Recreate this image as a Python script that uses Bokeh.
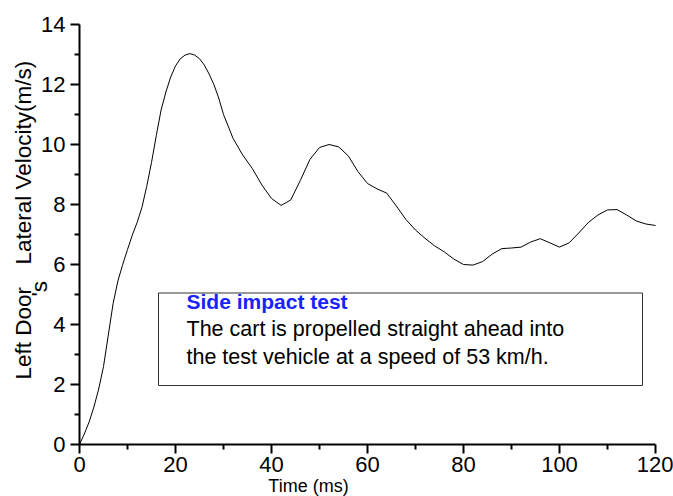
import math
from bokeh.plotting import figure
from bokeh.models import Range1d, FixedTicker, Label, BoxAnnotation, ColumnDataSource
from bokeh.embed import file_html
from bokeh.resources import INLINE

# ---- data ----
time_ms = [0, 1, 2, 3, 4, 5, 6, 7, 8, 9, 10, 11, 12, 13, 14, 15, 16, 17, 18, 19,
           20, 21, 22, 23, 24, 25, 26, 27, 28, 29, 30, 32, 34, 36, 38, 40, 42, 44,
           46, 48, 50, 52, 54, 56, 58, 60, 62, 64, 66, 68, 70, 72, 74, 76, 78, 80,
           82, 84, 86, 88, 90, 92, 94, 96, 98, 100, 102, 104, 106, 108, 110, 112,
           114, 116, 118, 120]
velocity = [0.0, 0.35, 0.75, 1.25, 1.85, 2.6, 3.65, 4.7, 5.45, 6.0, 6.5, 6.98, 7.4,
            7.9, 8.6, 9.4, 10.3, 11.15, 11.75, 12.25, 12.62, 12.86, 12.98, 13.03, 12.98,
            12.86, 12.65, 12.35, 12.0, 11.55, 11.0, 10.2, 9.65, 9.2, 8.65, 8.2, 7.97,
            8.15, 8.8, 9.5, 9.9, 10.0, 9.92, 9.62, 9.1, 8.7, 8.52, 8.38, 7.95, 7.5,
            7.15, 6.87, 6.62, 6.42, 6.18, 6.0, 5.98, 6.1, 6.35, 6.53, 6.55, 6.58,
            6.75, 6.86, 6.72, 6.58, 6.72, 7.05, 7.4, 7.65, 7.82, 7.83, 7.65, 7.45,
            7.35, 7.3]

x_major = [0, 20, 40, 60, 80, 100, 120]
x_minor = [10, 30, 50, 70, 90, 110]
y_major = [0, 2, 4, 6, 8, 10, 12, 14]
y_minor = [1, 3, 5, 7, 9, 11, 13]

x_title = "Time (ms)"
y_title_a = "Left Door"
y_title_b = "'s"
y_title_c = "Lateral Velocity(m/s)"
note_title = "Side impact test"
note_lines = ["The cart is propelled straight ahead into",
              "the test vehicle at a speed of 53 km/h."]

FONT = "Liberation Sans"

# pixel helpers (axes: x 0..120 -> px 79..655, y 0..14 -> px 444..24)
def tx(px):
    return (px - 79) / 4.8

def vy(py):
    return (444 - py) / 30.0

W, H = 673, 496
p = figure(width=W, height=H, output_backend="svg", toolbar_location=None,
           x_range=Range1d(tx(0), tx(W)), y_range=Range1d(vy(H), vy(0)),
           min_border_left=0, min_border_right=0, min_border_top=0,
           min_border_bottom=0)
p.outline_line_color = None
p.xgrid.visible = False
p.ygrid.visible = False
p.background_fill_color = "white"
p.border_fill_color = "white"

src = ColumnDataSource(dict(t=time_ms, v=velocity))
p.line("t", "v", source=src, line_color="black", line_width=1)

for ax, maj, mnr in ((p.xaxis[0], x_major, x_minor), (p.yaxis[0], y_major, y_minor)):
    ax.fixed_location = 0
    ax.bounds = (maj[0], maj[-1])
    ax.ticker = FixedTicker(ticks=maj, minor_ticks=mnr)
    ax.axis_line_color = "black"
    ax.axis_line_width = 2
    ax.major_tick_line_color = "black"
    ax.major_tick_line_width = 2
    ax.minor_tick_line_color = "black"
    ax.minor_tick_line_width = 2
    ax.major_tick_out = 9
    ax.major_tick_in = 0
    ax.minor_tick_out = 5
    ax.minor_tick_in = 0
    ax.major_label_text_font = FONT
    ax.major_label_text_font_size = "22px"
    ax.major_label_text_color = "black"

p.xaxis.major_label_standoff = 3
p.yaxis.major_label_standoff = 5

# x axis title
p.add_layout(Label(x=tx(308), y=vy(485), text=x_title, text_align="center",
                   text_baseline="middle", text_font=FONT,
                   text_font_size="18px", text_color="black"))

# y axis title pieces (rotated)
p.add_layout(Label(x=tx(23), y=vy(379), text=y_title_a, angle=math.pi / 2,
                   text_align="left", text_baseline="alphabetic",
                   text_font=FONT, text_font_size="22.5px", text_color="black"))
p.add_layout(Label(x=tx(39), y=vy(296), text=y_title_b, angle=math.pi / 2,
                   text_align="left", text_baseline="alphabetic",
                   text_font=FONT, text_font_size="22.5px", text_color="black"))
p.add_layout(Label(x=tx(23), y=vy(264), text=y_title_c, angle=math.pi / 2,
                   text_align="left", text_baseline="alphabetic",
                   text_font=FONT, text_font_size="22.5px", text_color="black"))

# note box
p.add_layout(BoxAnnotation(left=tx(158), right=tx(642), top=vy(292.5), bottom=vy(385),
                           fill_color=None, fill_alpha=0, line_color="#333333",
                           line_alpha=1.0, line_width=1))
p.add_layout(Label(x=tx(186), y=vy(301), text=note_title, text_align="left",
                   text_baseline="middle", text_font=FONT,
                   text_font_style="bold", text_font_size="21px", text_color="#1a22ff"))
for i, line in enumerate(note_lines):
    p.add_layout(Label(x=tx(186), y=vy(328 + 28.5 * i), text=line, text_align="left",
                       text_baseline="middle", text_font=FONT,
                       text_font_size="21.5px", text_color="black"))

open("out.html", "w").write(file_html(p, INLINE))
